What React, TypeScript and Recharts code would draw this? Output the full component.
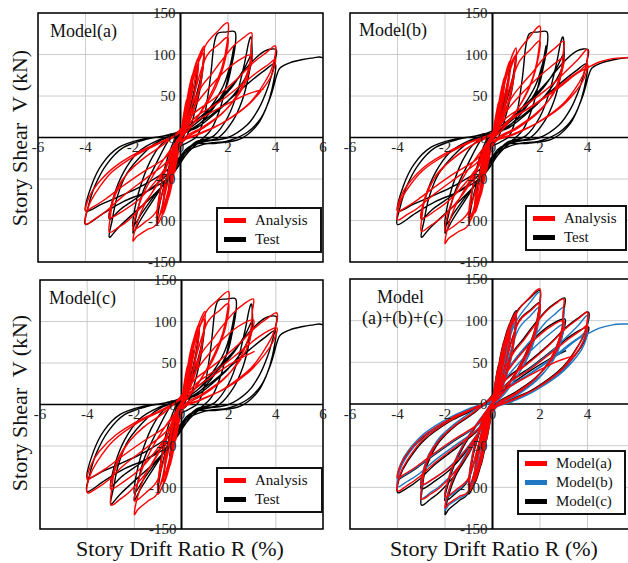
import React from "react";
import {
  CartesianGrid,
  Line,
  LineChart,
  ReferenceArea,
  ReferenceDot,
  ReferenceLine,
  XAxis,
  YAxis,
} from "recharts";

const FONT = '"Liberation Serif", "Times New Roman", serif';

const driftTicks = [-6, -4, -2, 0, 2, 4, 6];
const shearTicks = [-150, -100, -50, 0, 50, 100, 150];

// Test (experiment): [R %, V kN] in loading order
const testCurve = [
  [0, 0],
  [0.1, 15], [0.25, 35], [0.15, 20], [0.02, 4], [-0.1, -12], [-0.25, -33], [-0.15, -18], [-0.02, -3],
  [0.15, 12], [0.35, 38], [0.5, 65], [0.4, 45], [0.2, 18], [0, 5], [-0.2, -10], [-0.38, -36], [-0.5, -62], [-0.4, -42], [-0.2, -16], [0, -4],
  [0.2, 6], [0.45, 35], [0.65, 65], [0.75, 88], [0.6, 60], [0.35, 30], [0.1, 8], [-0.2, -3], [-0.45, -30], [-0.65, -60], [-0.75, -85], [-0.6, -55], [-0.35, -28], [-0.1, -8],
  [0.2, -2], [0.5, 20], [0.8, 55], [0.95, 85], [1.0, 100], [0.85, 72], [0.55, 40], [0.2, 12], [-0.2, 0], [-0.55, -25], [-0.8, -55], [-0.95, -85], [-1.0, -100], [-0.8, -70], [-0.5, -40], [-0.2, -15],
  [0.3, -6], [0.7, 2], [1.0, 25], [1.25, 70], [1.4, 110], [1.55, 125], [1.9, 127], [2.3, 127], [2.3, 110], [2.15, 86], [1.94, 62], [1.5, 40], [1.0, 22], [0.4, 8], [-0.3, 3],
  [-0.6, -8], [-1.0, -30], [-1.55, -63], [-1.83, -91], [-2.0, -115], [-1.7, -100], [-1.3, -82], [-0.8, -60], [-0.3, -38], [0.2, -15],
  [0.8, -4], [1.3, 10], [1.7, 38], [2.0, 72], [2.2, 98], [2.25, 110], [2.1, 88], [1.8, 62], [1.3, 38], [0.7, 18], [0, 5],
  [-0.8, -8], [-1.3, -30], [-1.7, -60], [-1.92, -85], [-2.0, -107], [-1.6, -90], [-1.1, -70], [-0.5, -48], [0.1, -22],
  [0.6, -6], [1.4, 2], [2.0, 25], [2.4, 55], [2.7, 90], [2.85, 112], [2.95, 121], [3.0, 115], [2.99, 90], [2.7, 70], [2.2, 50], [1.5, 30], [0.7, 12], [0, 5],
  [-0.8, -3], [-1.41, -15], [-2.25, -43], [-2.67, -72], [-2.88, -100], [-3.0, -120], [-2.6, -108], [-2.0, -92], [-1.3, -74], [-0.5, -50], [0.2, -22],
  [0.8, -6], [1.6, 0], [2.2, 20], [2.6, 45], [2.85, 72], [3.0, 100], [2.7, 84], [2.2, 62], [1.5, 40], [0.7, 18], [0, 5],
  [-1.0, -4], [-1.8, -18], [-2.4, -42], [-2.8, -70], [-3.0, -98], [-2.5, -86], [-1.8, -72], [-1.0, -56], [-0.2, -34], [0.4, -12],
  [1.0, -5], [2.0, 0], [2.8, 15], [3.3, 35], [3.65, 58], [3.88, 80], [4.0, 95], [4.02, 106], [3.54, 104], [2.97, 90], [2.27, 66], [1.58, 45], [0.8, 24], [0, 8],
  [-0.7, 2], [-1.41, -2], [-2.4, -12], [-3.1, -32], [-3.6, -58], [-3.9, -85], [-4.0, -105], [-3.23, -91], [-2.39, -77], [-1.41, -65], [-0.43, -47], [0.2, -22], [0.6, -8],
  [1.5, -7], [2.5, -2], [3.2, 14], [3.6, 35], [3.85, 58], [4.0, 88], [3.5, 80], [2.8, 64], [2.0, 44], [1.2, 25], [0.3, 8],
  [-0.6, 2], [-1.6, -2], [-2.6, -12], [-3.3, -32], [-3.75, -58], [-4.0, -88], [-3.3, -80], [-2.5, -70], [-1.6, -58], [-0.6, -40], [0.2, -18],
  [1.0, -8], [2.0, -4], [2.8, 6], [3.4, 24], [3.8, 50], [4.05, 75], [4.2, 84], [4.6, 90], [5.15, 94], [5.6, 96], [5.85, 97], [6.0, 96],
];

// Analysis, Model(a)
const modelA = [
  [0, 0],
  [0.1, 22], [0.25, 45], [0.18, 28], [0.05, 5], [-0.1, -20], [-0.25, -42], [-0.18, -26], [-0.05, -4],
  [0.15, 25], [0.35, 58], [0.5, 75], [0.45, 55], [0.3, 30], [0.1, 6], [-0.15, -22], [-0.35, -55], [-0.5, -72], [-0.45, -52], [-0.3, -28], [-0.1, -5],
  [0.15, 18], [0.4, 62], [0.6, 85], [0.75, 95], [0.7, 72], [0.5, 42], [0.25, 15], [0, 0], [-0.2, -22], [-0.4, -60], [-0.6, -82], [-0.75, -92], [-0.7, -70], [-0.5, -40], [-0.25, -12],
  [0.1, 10], [0.4, 55], [0.7, 92], [1.0, 110], [0.95, 90], [0.8, 62], [0.5, 30], [0.2, 8], [-0.1, -8], [-0.4, -52], [-0.7, -88], [-1.0, -105], [-0.95, -85], [-0.8, -58], [-0.5, -28], [-0.2, -6],
  [0.15, 12], [0.45, 60], [0.75, 90], [1.0, 102], [0.93, 80], [0.75, 52], [0.45, 24], [0.1, 3], [-0.15, -12], [-0.45, -56], [-0.75, -86], [-1.0, -98], [-0.93, -76], [-0.75, -50], [-0.45, -22], [-0.1, -2],
  [0.2, 15], [0.5, 55], [0.8, 95], [1.1, 113], [1.5, 126], [2.0, 138], [1.95, 112], [1.75, 85], [1.4, 60], [1.0, 38], [0.5, 15], [0, 0],
  [-0.3, -22], [-0.6, -62], [-0.99, -103], [-1.41, -111], [-1.83, -119], [-2.0, -124], [-1.83, -103], [-1.55, -83], [-1.13, -63], [-0.6, -35], [-0.1, -8],
  [0.3, 18], [0.7, 65], [1.1, 98], [1.6, 112], [2.0, 120], [1.9, 96], [1.65, 72], [1.3, 50], [0.8, 28], [0.3, 8],
  [-0.2, -8], [-0.6, -50], [-1.0, -88], [-1.5, -102], [-2.0, -111], [-1.85, -90], [-1.6, -70], [-1.2, -48], [-0.7, -26], [-0.2, -6],
  [0.2, 12], [0.5, 40], [0.9, 62], [1.3, 76], [1.66, 90], [2.22, 110], [2.64, 120], [3.0, 126], [2.97, 110], [2.92, 90], [2.71, 70], [2.36, 50], [1.8, 30], [1.0, 12], [0.2, -2],
  [-0.5, -30], [-1.0, -58], [-1.6, -82], [-2.2, -100], [-2.6, -108], [-3.0, -114], [-2.95, -95], [-2.85, -78], [-2.6, -60], [-2.2, -42], [-1.5, -24], [-0.7, -8],
  [0, 10], [0.6, 38], [1.2, 60], [1.8, 78], [2.4, 92], [3.0, 100], [2.9, 82], [2.7, 64], [2.3, 46], [1.7, 28], [0.9, 12], [0.1, -2],
  [-0.6, -35], [-1.2, -58], [-1.8, -76], [-2.4, -88], [-3.0, -97], [-2.9, -80], [-2.65, -60], [-2.2, -42], [-1.6, -26], [-0.8, -10],
  [0, 8], [0.6, 30], [1.38, 46], [2.36, 70], [3.06, 90], [3.6, 102], [4.0, 110], [3.9, 88], [3.62, 70], [2.92, 42], [1.79, 18], [0.8, 4], [0, -6],
  [-0.6, -30], [-1.4, -48], [-2.4, -70], [-3.1, -88], [-3.6, -98], [-4.0, -104], [-3.9, -85], [-3.6, -68], [-2.9, -42], [-1.8, -20], [-0.8, -6],
  [0, 6], [0.7, 26], [1.6, 42], [2.5, 62], [3.2, 78], [3.7, 88], [4.0, 94], [3.85, 76], [3.5, 60], [2.8, 38], [1.8, 18], [0.8, 5], [0, -5],
  [-0.7, -26], [-1.6, -42], [-2.5, -60], [-3.2, -75], [-3.7, -84], [-4.0, -88], [-3.85, -72], [-3.5, -56], [-2.8, -36], [-1.8, -18], [-0.8, -5],
  [0, 6], [0.8, 22], [1.8, 38], [2.8, 52], [3.5, 58],
];

// Analysis, Model(b)
const modelB = [
  [0, 0],
  [0.1, 20], [0.25, 42], [0.18, 26], [0.05, 4], [-0.1, -19], [-0.25, -40], [-0.18, -25], [-0.05, -3],
  [0.15, 23], [0.35, 55], [0.5, 72], [0.45, 52], [0.3, 28], [0.1, 5], [-0.15, -21], [-0.35, -52], [-0.5, -70], [-0.45, -50], [-0.3, -27], [-0.1, -4],
  [0.15, 16], [0.4, 58], [0.6, 82], [0.75, 92], [0.7, 70], [0.5, 40], [0.25, 13], [0, -1], [-0.2, -20], [-0.4, -57], [-0.6, -80], [-0.75, -90], [-0.7, -68], [-0.5, -38], [-0.25, -10],
  [0.1, 8], [0.4, 52], [0.7, 88], [1.0, 108], [0.95, 87], [0.8, 60], [0.5, 28], [0.2, 6], [-0.1, -9], [-0.4, -50], [-0.7, -85], [-1.0, -102], [-0.95, -82], [-0.8, -56], [-0.5, -26], [-0.2, -5],
  [0.15, 10], [0.45, 57], [0.75, 87], [1.0, 99], [0.93, 78], [0.75, 50], [0.45, 22], [0.1, 2], [-0.15, -13], [-0.45, -54], [-0.75, -84], [-1.0, -96], [-0.93, -74], [-0.75, -48], [-0.45, -20], [-0.1, -1],
  [0.2, 13], [0.5, 50], [0.8, 86], [1.1, 104], [1.5, 119], [2.0, 134], [1.95, 106], [1.78, 80], [1.45, 55], [1.05, 34], [0.5, 12], [0, -2],
  [-0.3, -23], [-0.6, -63], [-0.99, -104], [-1.41, -113], [-1.83, -121], [-2.0, -127], [-1.85, -105], [-1.6, -85], [-1.2, -64], [-0.65, -36], [-0.1, -8],
  [0.3, 14], [0.7, 58], [1.1, 90], [1.6, 106], [2.0, 116], [1.9, 92], [1.68, 69], [1.35, 48], [0.85, 26], [0.3, 6],
  [-0.2, -9], [-0.6, -52], [-1.0, -89], [-1.5, -104], [-2.0, -112], [-1.87, -91], [-1.63, -71], [-1.25, -49], [-0.75, -27], [-0.2, -6],
  [0.2, 8], [0.5, 32], [0.9, 52], [1.3, 66], [1.7, 79], [2.2, 97], [2.6, 107], [3.0, 116], [2.97, 100], [2.9, 82], [2.72, 64], [2.4, 46], [1.85, 28], [1.05, 11], [0.2, -3],
  [-0.5, -31], [-1.0, -58], [-1.6, -81], [-2.2, -98], [-2.6, -106], [-3.0, -113], [-2.96, -94], [-2.87, -77], [-2.63, -59], [-2.25, -41], [-1.55, -23], [-0.75, -7],
  [0, 6], [0.6, 32], [1.2, 52], [1.8, 69], [2.4, 84], [3.0, 96], [2.92, 79], [2.72, 61], [2.35, 44], [1.75, 27], [0.95, 11], [0.1, -3],
  [-0.6, -34], [-1.2, -57], [-1.8, -75], [-2.4, -88], [-3.0, -98], [-2.92, -80], [-2.68, -60], [-2.25, -42], [-1.65, -25], [-0.85, -9],
  [0, 4], [0.6, 24], [1.4, 39], [2.4, 61], [3.1, 80], [3.6, 94], [4.0, 106], [3.92, 84], [3.65, 66], [2.95, 40], [1.85, 17], [0.85, 3], [0, -6],
  [-0.6, -29], [-1.4, -46], [-2.4, -67], [-3.1, -84], [-3.6, -93], [-4.0, -99], [-3.92, -81], [-3.65, -65], [-2.95, -40], [-1.85, -19], [-0.85, -5],
  [0, 3], [0.7, 21], [1.6, 37], [2.5, 55], [3.2, 71], [3.7, 81], [4.0, 88], [3.87, 72], [3.55, 57], [2.85, 36], [1.85, 17], [0.85, 4], [0, -5],
  [-0.7, -27], [-1.6, -43], [-2.5, -61], [-3.2, -76], [-3.7, -85], [-4.0, -89], [-3.87, -72], [-3.55, -56], [-2.85, -35], [-1.85, -17], [-0.85, -4],
  [0, 5], [0.8, 22], [1.8, 40], [2.8, 60], [3.5, 76], [4.0, 84], [4.5, 91], [5.05, 95], [5.6, 96], [6.0, 96],
];

// Analysis, Model(c)
const modelC = [
  [0, 0],
  [0.1, 23], [0.25, 46], [0.18, 29], [0.05, 6], [-0.1, -21], [-0.25, -43], [-0.18, -27], [-0.05, -5],
  [0.15, 26], [0.35, 60], [0.5, 76], [0.45, 57], [0.3, 32], [0.1, 7], [-0.15, -23], [-0.35, -57], [-0.5, -74], [-0.45, -54], [-0.3, -30], [-0.1, -6],
  [0.15, 20], [0.4, 64], [0.6, 87], [0.75, 96], [0.7, 74], [0.5, 44], [0.25, 17], [0, 1], [-0.2, -23], [-0.4, -62], [-0.6, -84], [-0.75, -94], [-0.7, -72], [-0.5, -42], [-0.25, -14],
  [0.1, 12], [0.4, 57], [0.7, 94], [1.0, 112], [0.95, 92], [0.8, 64], [0.5, 32], [0.2, 10], [-0.1, -7], [-0.4, -54], [-0.7, -90], [-1.0, -108], [-0.95, -88], [-0.8, -60], [-0.5, -30], [-0.2, -7],
  [0.15, 14], [0.45, 62], [0.75, 92], [1.0, 103], [0.93, 82], [0.75, 54], [0.45, 26], [0.1, 4], [-0.15, -11], [-0.45, -58], [-0.75, -88], [-1.0, -100], [-0.93, -78], [-0.75, -52], [-0.45, -24], [-0.1, -3],
  [0.2, 16], [0.5, 57], [0.8, 96], [1.1, 114], [1.5, 125], [2.0, 136], [1.95, 113], [1.75, 86], [1.4, 61], [1.0, 39], [0.5, 16], [0, 1],
  [-0.3, -21], [-0.6, -62], [-0.99, -105], [-1.41, -116], [-1.83, -126], [-2.0, -132], [-1.83, -108], [-1.55, -86], [-1.13, -65], [-0.6, -36], [-0.1, -9],
  [0.3, 19], [0.7, 66], [1.1, 99], [1.6, 113], [2.0, 121], [1.9, 97], [1.65, 74], [1.3, 52], [0.8, 30], [0.3, 9],
  [-0.2, -7], [-0.6, -51], [-1.0, -90], [-1.5, -106], [-2.0, -116], [-1.85, -94], [-1.6, -73], [-1.2, -50], [-0.7, -27], [-0.2, -7],
  [0.2, 13], [0.5, 42], [0.9, 64], [1.3, 78], [1.66, 92], [2.22, 111], [2.64, 121], [3.05, 127], [3.0, 111], [2.95, 92], [2.74, 72], [2.4, 52], [1.85, 32], [1.0, 13], [0.2, -1],
  [-0.5, -31], [-1.0, -60], [-1.6, -86], [-2.2, -105], [-2.6, -114], [-3.0, -121], [-2.95, -100], [-2.85, -82], [-2.6, -63], [-2.2, -44], [-1.5, -25], [-0.7, -9],
  [0, 11], [0.6, 40], [1.2, 62], [1.8, 80], [2.4, 94], [3.05, 102], [2.95, 84], [2.75, 66], [2.35, 48], [1.75, 30], [0.9, 13], [0.1, -1],
  [-0.6, -36], [-1.2, -60], [-1.8, -79], [-2.4, -92], [-3.0, -102], [-2.9, -84], [-2.65, -63], [-2.2, -44], [-1.6, -27], [-0.8, -11],
  [0, 9], [0.6, 31], [1.4, 48], [2.4, 72], [3.1, 92], [3.65, 104], [4.05, 110], [3.95, 90], [3.65, 72], [2.95, 44], [1.8, 19], [0.8, 5], [0, -5],
  [-0.6, -31], [-1.4, -50], [-2.4, -72], [-3.1, -91], [-3.6, -101], [-4.0, -106], [-3.9, -87], [-3.6, -70], [-2.9, -44], [-1.8, -21], [-0.8, -7],
  [0, 7], [0.7, 27], [1.6, 44], [2.5, 64], [3.2, 80], [3.7, 89], [4.05, 92], [3.9, 77], [3.55, 61], [2.85, 39], [1.85, 19], [0.8, 6], [0, -4],
  [-0.7, -27], [-1.6, -44], [-2.5, -62], [-3.2, -77], [-3.7, -86], [-4.0, -90], [-3.85, -74], [-3.5, -57], [-2.8, -37], [-1.8, -19], [-0.8, -6],
  [0, 7], [0.8, 24], [1.6, 40], [2.4, 54], [3.1, 64],
];

const RED = "#ff0000";
const BLUE = "#1f78c1";
const BLACK = "#000000";

type Series = { name: string; pts: number[][]; color: string };

const toRows = (pts: number[][]) => pts.map(([r, v]) => ({ r, v }));

// smooth pen through every recorded point (Catmull-Rom as cubic Béziers)
const smoothPen = (ctx: any) => {
  let p: number[][] = [];
  return {
    areaStart() {},
    areaEnd() {},
    lineStart() {
      p = [];
    },
    point(x: number, y: number) {
      p.push([+x, +y]);
    },
    lineEnd() {
      if (!p.length) return;
      ctx.moveTo(p[0][0], p[0][1]);
      for (let i = 0; i < p.length - 1; i++) {
        const a = p[i - 1] || p[i];
        const b = p[i];
        const c = p[i + 1];
        const d = p[i + 2] || c;
        ctx.bezierCurveTo(
          b[0] + (c[0] - a[0]) / 6,
          b[1] + (c[1] - a[1]) / 6,
          c[0] - (d[0] - b[0]) / 6,
          c[1] - (d[1] - b[1]) / 6,
          c[0],
          c[1]
        );
      }
    },
  };
};

function Panel({
  left,
  top,
  width,
  margin,
  series,
}: {
  left: number;
  top: number;
  width: number;
  margin: { top: number; left: number; right: number; bottom: number };
  series: Series[];
}) {
  const tickLabel = { fill: "#222", fontSize: 15, fontFamily: FONT };
  return (
    <div style={{ position: "absolute", left, top }}>
      <LineChart width={width} height={270} margin={margin}>
        <CartesianGrid stroke="#cccccc" strokeWidth={1} />
        <XAxis
          type="number"
          dataKey="r"
          domain={[-6, 6]}
          ticks={driftTicks}
          allowDataOverflow
          hide
        />
        <YAxis
          type="number"
          domain={[-150, 150]}
          ticks={shearTicks}
          allowDataOverflow
          hide
        />
        {driftTicks.map((t) => (
          <ReferenceDot
            key={"x" + t}
            x={t}
            y={0}
            r={0}
            fill="none"
            stroke="none"
            label={{ value: String(t), position: "bottom", offset: 4, ...tickLabel }}
          />
        ))}
        {shearTicks.map((t) => (
          <ReferenceDot
            key={"y" + t}
            x={0}
            y={t}
            r={0}
            fill="none"
            stroke="none"
            label={{ value: String(t), position: "left", offset: 5, ...tickLabel }}
          />
        ))}
        <ReferenceLine x={0} stroke="#000" strokeWidth={2} />
        <ReferenceLine y={0} stroke="#000" strokeWidth={1.6} />
        {series.map((s) => (
          <Line
            key={s.name}
            data={toRows(s.pts)}
            dataKey="v"
            type={smoothPen as any}
            stroke={s.color}
            strokeWidth={1.4}
            dot={false}
            activeDot={false}
            isAnimationActive={false}
          />
        ))}
        <ReferenceArea
          x1={-6}
          x2={6}
          y1={-150}
          y2={150}
          fill="none"
          stroke="#000"
          strokeWidth={1.5}
          fillOpacity={0}
        />
      </LineChart>
    </div>
  );
}

function LegendBox({
  left,
  top,
  width,
  items,
}: {
  left: number;
  top: number;
  width: number;
  items: { label: string; color: string }[];
}) {
  return (
    <div
      style={{
        position: "absolute",
        left,
        top,
        width,
        boxSizing: "border-box",
        border: "2px solid #111",
        background: "#fff",
        padding: "2px 0 2px 6px",
        fontFamily: FONT,
        fontSize: 15,
        color: "#111",
      }}
    >
      {items.map((it) => (
        <div
          key={it.label}
          style={{ display: "flex", alignItems: "center", height: 19 }}
        >
          <span
            style={{
              display: "inline-block",
              width: 22,
              height: 5,
              background: it.color,
              marginRight: 9,
            }}
          />
          <span>{it.label}</span>
        </div>
      ))}
    </div>
  );
}

const text = (style: React.CSSProperties): React.CSSProperties => ({
  position: "absolute",
  fontFamily: FONT,
  color: "#111",
  whiteSpace: "pre",
  lineHeight: 1,
  ...style,
});

export default function App() {
  const analysisTest = [
    { label: "Analysis", color: RED },
    { label: "Test", color: BLACK },
  ];
  return (
    <div
      style={{
        position: "absolute",
        left: 0,
        top: 0,
        width: 628,
        height: 563,
        overflow: "hidden",
        background: "#fff",
      }}
    >
      <Panel
        left={0}
        top={0}
        width={330}
        margin={{ top: 13, left: 38, right: 7, bottom: 8 }}
        series={[
          { name: "test", pts: testCurve, color: BLACK },
          { name: "a", pts: modelA, color: RED },
        ]}
      />
      <Panel
        left={330}
        top={0}
        width={312}
        margin={{ top: 13, left: 20, right: 7, bottom: 8 }}
        series={[
          { name: "test", pts: testCurve, color: BLACK },
          { name: "b", pts: modelB, color: RED },
        ]}
      />
      <Panel
        left={0}
        top={270}
        width={330}
        margin={{ top: 10, left: 40, right: 7, bottom: 11 }}
        series={[
          { name: "test", pts: testCurve, color: BLACK },
          { name: "c", pts: modelC, color: RED },
        ]}
      />
      <Panel
        left={330}
        top={270}
        width={312}
        margin={{ top: 9, left: 20, right: 7, bottom: 11 }}
        series={[
          { name: "c", pts: modelC, color: BLACK },
          { name: "b", pts: modelB, color: BLUE },
          { name: "a", pts: modelA, color: RED },
        ]}
      />

      <div style={text({ left: 50, top: 22, fontSize: 18 })}>Model(a)</div>
      <div style={text({ left: 359, top: 21, fontSize: 18 })}>Model(b)</div>
      <div style={text({ left: 49, top: 289, fontSize: 18 })}>Model(c)</div>
      <div style={text({ left: 377, top: 288, fontSize: 18 })}>Model</div>
      <div style={text({ left: 362, top: 309, fontSize: 18 })}>(a)+(b)+(c)</div>

      <LegendBox left={216} top={207} width={106} items={analysisTest} />
      <LegendBox left={525} top={205} width={102} items={analysisTest} />
      <LegendBox left={216} top={467} width={107} items={analysisTest} />
      <LegendBox
        left={517}
        top={450}
        width={109}
        items={[
          { label: "Model(a)", color: RED },
          { label: "Model(b)", color: BLUE },
          { label: "Model(c)", color: BLACK },
        ]}
      />

      <div
        style={text({
          left: 20,
          top: 138,
          fontSize: 22,
          transform: "translate(-50%, -50%) rotate(-90deg)",
        })}
      >
        {"Story Shear  V (kN)"}
      </div>
      <div
        style={text({
          left: 20,
          top: 403,
          fontSize: 22,
          transform: "translate(-50%, -50%) rotate(-90deg)",
        })}
      >
        {"Story Shear  V (kN)"}
      </div>
      <div
        style={text({
          left: 180,
          top: 549,
          fontSize: 22,
          transform: "translate(-50%, -50%)",
        })}
      >
        Story Drift Ratio R (%)
      </div>
      <div
        style={text({
          left: 494,
          top: 549,
          fontSize: 22,
          transform: "translate(-50%, -50%)",
        })}
      >
        Story Drift Ratio R (%)
      </div>
    </div>
  );
}
